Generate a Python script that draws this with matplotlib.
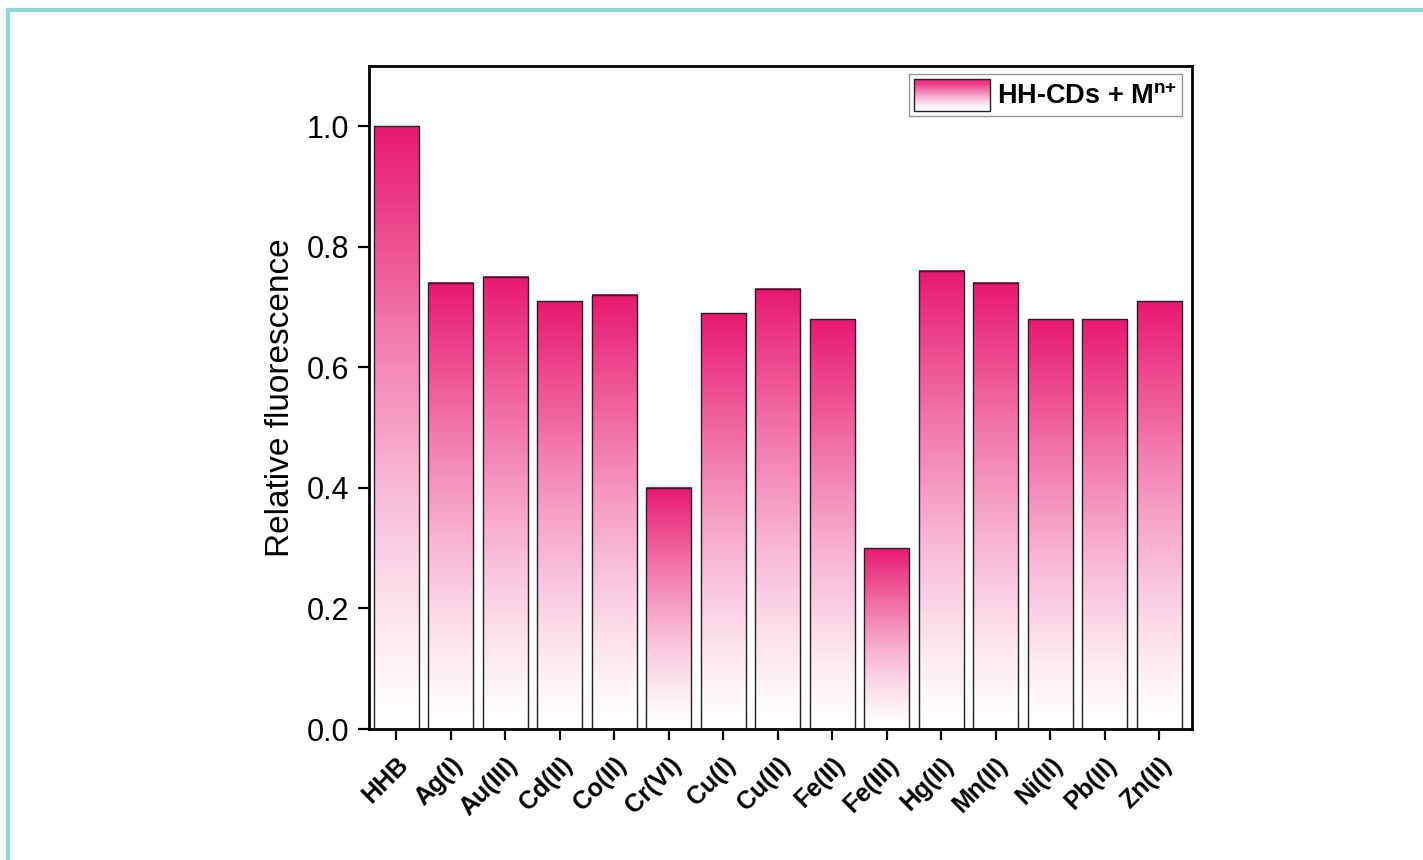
import matplotlib.pyplot as plt
import numpy as np
from matplotlib.colors import LinearSegmentedColormap
from matplotlib.patches import Rectangle, Patch
from matplotlib.legend_handler import HandlerBase
from matplotlib.lines import Line2D

plt.rcParams['font.family'] = ['Liberation Sans', 'DejaVu Sans']
plt.rcParams['mathtext.fontset'] = 'custom'
plt.rcParams['mathtext.rm'] = 'Liberation Sans'
plt.rcParams['mathtext.bf'] = 'Liberation Sans:bold'

ions = ['HHB', 'Ag(I)', 'Au(III)', 'Cd(II)', 'Co(II)', 'Cr(VI)', 'Cu(I)', 'Cu(II)',
        'Fe(II)', 'Fe(III)', 'Hg(II)', 'Mn(II)', 'Ni(II)', 'Pb(II)', 'Zn(II)']
rel_fluo = [1.00, 0.74, 0.75, 0.71, 0.72, 0.40, 0.69, 0.73,
            0.68, 0.30, 0.76, 0.74, 0.68, 0.68, 0.71]

pink = '#e8196f'
cmap = LinearSegmentedColormap.from_list('pinkfade', ['#ffffff', pink])
# fade a bit faster towards white at the bottom
grad = (np.linspace(0, 1, 256) ** 1.3).reshape(-1, 1)


class GradientHandler(HandlerBase):
    # legend patch drawn as stacked stripes, white at bottom -> pink at top
    def create_artists(self, legend, orig_handle, xdescent, ydescent,
                       width, height, fontsize, trans):
        n = 30
        arts = []
        for i in range(n):
            r = Rectangle((-xdescent, -ydescent + height * i / n), width, height / n + 0.3,
                          facecolor=cmap(((i + 0.5) / n) ** 1.3), edgecolor='none',
                          transform=trans)
            arts.append(r)
        arts.append(Rectangle((-xdescent, -ydescent), width, height, facecolor='none',
                              edgecolor='#222222', linewidth=1.0, transform=trans))
        return arts


fig = plt.figure(figsize=(14.23, 8.6), dpi=100)
ax = fig.add_axes([0.2593, 0.1523, 0.5784, 0.7710])

x = np.arange(len(ions))
width = 0.83
bars = ax.bar(x, rel_fluo, width=width, facecolor='none', edgecolor='#222222',
              linewidth=1.0, zorder=3)
for b in bars:
    x0, y0 = b.get_x(), b.get_y()
    w, h = b.get_width(), b.get_height()
    ax.imshow(grad, cmap=cmap, origin='lower', aspect='auto', vmin=0, vmax=1,
              extent=[x0, x0 + w, y0, y0 + h], zorder=2, interpolation='bilinear')

ax.set_xlim(-0.5, 14.6)
ax.set_ylim(0, 1.1)
ax.set_xticks(x)
ax.set_xticklabels(ions, rotation=45, ha='right', rotation_mode='anchor',
                   fontsize=18, fontweight='bold')
ax.set_yticks([0.0, 0.2, 0.4, 0.6, 0.8, 1.0])
ax.set_yticklabels(['0.0', '0.2', '0.4', '0.6', '0.8', '1.0'], fontsize=22)
ax.set_ylabel('Relative fluorescence', fontsize=24, labelpad=8)
ax.tick_params(axis='both', direction='out', length=8, width=1.6)
ax.tick_params(axis='x', pad=9)
ax.tick_params(axis='y', pad=6)
for s in ax.spines.values():
    s.set_linewidth(2)

handle = Patch(facecolor=pink, edgecolor='#222222')
leg = ax.legend([handle], [r'HH-CDs + M$^{\mathbf{n{+}}}$'], handler_map={Patch: GradientHandler()},
                loc='upper right', bbox_to_anchor=(0.988, 0.988), borderaxespad=0,
                fancybox=False, edgecolor='#999999', framealpha=1,
                handlelength=2.8, handleheight=1.4,
                prop={'size': 19.5, 'weight': 'bold'}, borderpad=0.2, handletextpad=0.25)

# outer frame lines
fig.add_artist(Line2D([8 / 1423, 1.0], [1 - 10 / 860, 1 - 10 / 860], color='#8fd6da',
                      linewidth=3, transform=fig.transFigure))
fig.add_artist(Line2D([8 / 1423, 8 / 1423], [0.0, 1 - 10 / 860], color='#8fd6da',
                      linewidth=3, transform=fig.transFigure))

fig.savefig('out.png', dpi=100)
